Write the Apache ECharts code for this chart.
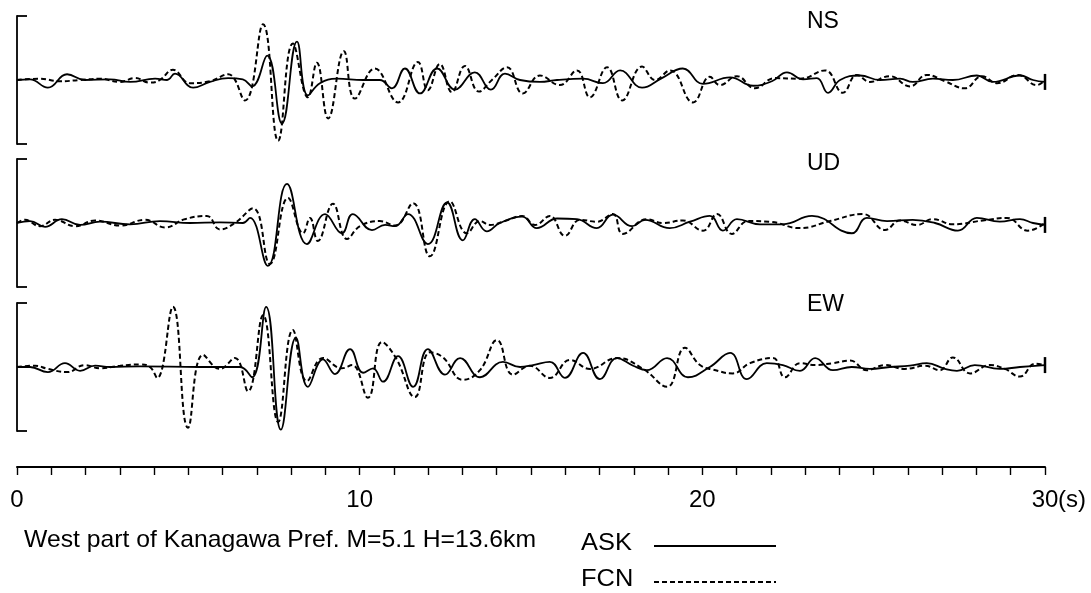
<!DOCTYPE html>
<html>
<head>
<meta charset="utf-8">
<script src="https://cdn.jsdelivr.net/npm/echarts@6/dist/echarts.min.js"></script>
<style>
html,body{margin:0;padding:0;background:#fff}
#chart{width:1091px;height:593px}
</style>
</head>
<body>
<div id="chart"></div>
<script>
// Components and trace names
const components = ['NS', 'UD', 'EW'];
const traceNames = ['ASK', 'FCN'];
const timeLabels = [0, 10, 20, 30];
const timeUnit = '(s)';
const caption = 'West part of Kanagawa Pref. M=5.1 H=13.6km';

// Waveforms as [time (s), amplitude] pairs; the bracket spans -10..10
const nsAsk = [[0,0],[0.38,0.1],[0.9,-1.2],[1.46,0.9],[1.98,0],[2.71,0.1],[3.3,-0.3],[4.03,0.2],[4.38,0],[4.61,1.0],[5.14,-1.2],[5.63,-0.3],[6.16,0.3],[6.59,0.1],[6.86,-1.0],[7.3,3.8],[7.73,-6.8],[8.17,6.0],[8.49,-2.4],[8.84,-0.5],[9.34,0.2],[10.1,0],[10.59,0],[10.94,-1.3],[11.32,1.8],[11.76,-2.1],[12.26,1.8],[12.78,-1.5],[13.36,1.2],[13.83,-1.5],[14.24,1.0],[14.68,0],[15.26,-0.3],[15.76,0],[16.52,0.2],[17.1,-0.5],[17.6,1.5],[18.24,-1.2],[18.82,0.3],[19.43,1.8],[20.02,-0.6],[20.81,0.4],[21.48,-0.9],[22.03,-0.2],[22.47,1.2],[22.94,0.1],[23.34,0.3],[23.67,-2.0],[24.02,0],[24.6,0.7],[25.18,0],[25.77,0.2],[26.14,-0.3],[26.73,0.2],[27.31,0],[28.01,0.7],[28.48,-0.3],[29.27,0.7],[29.65,0],[30,-0.3]];
const nsFcn = [[0,0],[0.67,0.2],[1.25,-0.2],[1.84,0],[2.42,0.2],[3.01,-0.3],[3.44,0.3],[3.88,-0.4],[4.17,0],[4.55,1.6],[5.05,-0.5],[5.63,-0.2],[6.16,0.9],[6.65,-3.2],[7.18,8.7],[7.62,-9.5],[8.05,5.7],[8.49,-2.7],[8.75,2.7],[9.08,-6.0],[9.54,4.5],[9.86,-2.9],[10.44,1.8],[11.12,-3.5],[11.7,2.8],[11.99,-1.6],[12.34,2.5],[12.69,-1.9],[13.07,2.2],[13.48,-1.8],[13.86,0],[14.3,2.0],[14.76,-2.1],[15.26,0.7],[15.84,-0.8],[16.34,1.5],[16.72,-2.7],[17.22,2.0],[17.66,-3.2],[18.24,2.1],[18.62,0],[19.06,1.5],[19.73,-3.5],[20.22,0.5],[20.51,-0.8],[21.01,0.6],[21.53,-1.3],[22.12,0.3],[22.85,0.2],[23.58,1.5],[24.1,-2.0],[24.51,0.8],[24.89,-0.3],[25.47,0.6],[26.06,-1.0],[26.55,0.8],[27.08,-0.2],[27.66,-1.3],[28.16,0.6],[28.6,-0.5],[29.21,0.8],[29.76,-0.8],[30,0]];

const udAsk = [[0,0],[0.38,0.3],[0.82,-0.6],[1.31,0.6],[1.84,-0.3],[2.42,0.2],[3.3,-0.2],[4.17,0.3],[5.05,0],[5.92,0.1],[6.59,0],[6.8,0.8],[7.32,-6.7],[7.88,6.1],[8.46,-3.3],[8.99,1.4],[9.48,-1.6],[9.8,1.4],[10.36,-1.1],[10.74,-0.3],[11.03,-0.5],[11.41,1.4],[11.99,-3.3],[12.55,3.2],[13.01,-2.7],[13.36,0.6],[13.71,-1.3],[14.09,0],[14.74,1.0],[15.17,-0.8],[15.76,0.7],[16.34,0.6],[16.92,-0.8],[17.39,1.3],[17.95,-0.5],[18.33,0.5],[19.05,-0.8],[19.64,0.2],[20.22,1.1],[20.6,-1.2],[21.01,0.6],[21.68,-0.2],[22.35,-0.2],[23.2,1.1],[24.36,-1.6],[24.8,0.8],[25.39,0.3],[26.14,0.5],[26.79,0],[27.46,-1.2],[28.01,0.8],[28.68,0.2],[29.27,0.6],[29.65,0],[30,-0.3]];
const udFcn = [[0,0],[0.23,0.5],[0.67,-0.5],[1.11,0.5],[1.69,-0.5],[2.28,0.4],[3.01,-0.4],[3.74,0.5],[4.32,-0.7],[4.9,0.6],[5.54,1.1],[5.92,-1.0],[6.36,0],[6.89,2.3],[7.38,-6.4],[7.91,3.9],[8.35,-1.6],[8.55,0.8],[8.78,-2.8],[9.22,3.0],[9.63,-2.5],[10.01,-0.5],[10.59,0.3],[11.03,-0.4],[11.56,3.1],[12.05,-5.2],[12.63,3.4],[13.13,-1.6],[13.51,0.3],[13.8,-0.3],[14.24,0.3],[14.74,1.1],[15.12,-0.3],[15.55,1.1],[15.99,-2.0],[16.43,0.5],[16.92,0.2],[17.39,1.4],[17.68,-1.7],[18.38,0.6],[18.85,0],[19.43,0.4],[20.02,-1.2],[20.43,1.4],[20.86,-1.7],[21.33,0.3],[21.97,0.2],[22.85,-0.8],[23.72,0.3],[24.69,1.4],[25.33,-1.1],[25.77,0.4],[26.26,-0.3],[26.73,0.6],[27.31,-0.2],[28.19,0.4],[28.89,0.8],[29.5,-1.2],[30,0]];

const ewAsk = [[0,0],[0.38,0],[0.9,-0.8],[1.4,0.6],[1.84,-0.6],[2.28,0.2],[2.71,0],[3.59,0.1],[5.34,0],[6.51,0],[6.86,-1.6],[7.27,9.4],[7.7,-9.8],[8.14,4.6],[8.49,-3.1],[8.93,1.2],[9.28,-1.1],[9.72,2.8],[10.1,-0.9],[10.39,-0.2],[10.68,-2.3],[11.12,1.7],[11.56,-3.1],[11.99,2.8],[12.49,-1.2],[12.93,1.4],[13.51,-1.6],[14.18,0.8],[14.68,0],[15.06,0.3],[15.55,0.8],[15.99,-1.7],[16.52,2.2],[17.01,-1.9],[17.51,1.4],[17.98,0.2],[18.38,-0.5],[18.97,1.4],[19.58,-1.6],[20.22,0],[20.81,2.2],[21.3,-1.9],[21.88,0.6],[22.35,0.3],[22.85,-0.6],[23.29,1.4],[23.81,-0.5],[24.36,0],[24.89,-0.3],[25.47,0],[26.06,0.2],[26.55,0.6],[27.08,-0.3],[27.43,-0.6],[27.95,0.3],[28.68,-0.3],[29.27,0],[30,0.3]];
const ewFcn = [[0,0],[0.53,0.2],[0.9,-0.3],[1.46,-0.8],[1.98,0.3],[2.42,-0.2],[3.01,0.2],[3.59,0.4],[3.88,0],[4.09,-1.7],[4.55,9.4],[4.99,-9.5],[5.43,1.9],[5.92,-0.3],[6.36,1.4],[6.74,-3.8],[7.18,8.1],[7.62,-8.6],[8.05,5.8],[8.46,-2.2],[8.93,1.4],[9.48,-0.2],[9.78,0.3],[10.24,-4.8],[10.65,3.9],[11.06,1.4],[11.61,-4.7],[12.05,2.3],[12.43,1.5],[13.01,-2.0],[13.51,-0.5],[14.01,4.2],[14.47,-1.2],[14.97,0.2],[15.55,-1.7],[16.14,1.1],[16.72,-0.3],[17.51,1.4],[18.27,-0.3],[18.97,-3.1],[19.49,3.0],[19.93,0.3],[20.31,-0.4],[20.89,-1.0],[21.39,0.6],[22.06,1.4],[22.41,-1.6],[22.85,0.6],[23.29,0.3],[23.81,0.6],[24.31,1.0],[24.8,-0.5],[25.33,0.3],[25.91,-0.3],[26.5,0.2],[26.93,-0.5],[27.31,1.5],[27.81,-1.0],[28.39,0.3],[28.83,-0.3],[29.27,-1.5],[29.71,0.5],[30,0.3]];

const traces = [[nsAsk, nsFcn], [udAsk, udFcn], [ewAsk, ewFcn]];

const FONT = '"Liberation Sans", Arial, Helvetica, sans-serif';
const INK = '#000';
const panelTops = [16, 159, 303];
const panelHeight = 128;
const plotLeft = 17;
const plotRight = 46;
const solidStyle = {width: 1.8, dash: null};
const dashStyle = {width: 2.0, dash: [5, 3]};

const chart = echarts.init(document.getElementById('chart'), null, {renderer: 'canvas'});

const grids = panelTops.map(top => ({left: plotLeft, right: plotRight, top: top, height: panelHeight}));
grids.push({left: plotLeft, right: plotRight, top: 420, height: 47});

const xAxes = panelTops.map((_, i) => ({
  gridIndex: i, type: 'value', min: 0, max: 30, show: false
}));
xAxes.push({
  gridIndex: 3, type: 'value', min: 0, max: 30, interval: 1,
  axisLine: {show: true, lineStyle: {color: INK, width: 2}},
  axisTick: {show: true, inside: false, length: 8, lineStyle: {color: INK, width: 1.4}},
  axisLabel: {
    show: true, color: INK, fontSize: 24, fontFamily: FONT, margin: 21,
    showMinLabel: true, showMaxLabel: true,
    formatter: v => (timeLabels.indexOf(v) >= 0 ? String(v) : '')
  },
  splitLine: {show: false}
});

// Left-hand brackets: axis line plus inward ticks at the two limits
const yAxes = panelTops.map((_, i) => ({
  gridIndex: i, type: 'value', min: -10, max: 10, interval: 20,
  axisLine: {show: true, lineStyle: {color: INK, width: 1.8}},
  axisTick: {show: true, inside: true, length: 10, lineStyle: {color: INK, width: 1.8}},
  axisLabel: {show: false},
  splitLine: {show: false}
}));
yAxes.push({gridIndex: 3, type: 'value', min: 0, max: 1, show: false});

const series = [];
traces.forEach((pair, gi) => {
  pair.forEach((pts, k) => {
    const dashed = k === 1;
    const st = dashed ? dashStyle : solidStyle;
    series.push({
      type: 'line',
      name: traceNames[k],
      xAxisIndex: gi, yAxisIndex: gi,
      data: pts.map((p, i) => (!dashed && i === pts.length - 1)
        ? {value: p, symbol: 'rect', symbolSize: [2.5, 16]}
        : {value: p}),
      symbol: 'none',
      showSymbol: true,
      smooth: 0.45,
      lineStyle: {color: INK, width: st.width, type: dashed ? st.dash : 'solid'},
      itemStyle: {color: INK},
      z: dashed ? 3 : 2,
      silent: true
    });
  });
});

const titles = components.map((c, i) => ({
  text: c, left: 807, top: [10, 152, 293][i],
  textStyle: {fontSize: 23, fontWeight: 'normal', color: INK, fontFamily: FONT},
  padding: 0
}));

// Key: name followed by a sample of its line style
const keyRows = [543, 579];
const keyGraphics = [];
traceNames.forEach((name, k) => {
  const st = k === 1 ? dashStyle : solidStyle;
  keyGraphics.push({
    type: 'text', x: 581, y: keyRows[k], scaleX: 1.06,
    style: {text: name, fill: INK, font: '24px ' + FONT, textVerticalAlign: 'middle', verticalAlign: 'middle'}
  });
  keyGraphics.push({
    type: 'line',
    shape: {x1: 654, y1: keyRows[k] + 3, x2: 776, y2: keyRows[k] + 3},
    style: {stroke: INK, lineWidth: st.width, lineDash: st.dash}
  });
});

chart.setOption({
  animation: false,
  backgroundColor: '#fff',
  title: titles,
  grid: grids,
  xAxis: xAxes,
  yAxis: yAxes,
  series: series,
  graphic: [
    {type: 'text', x: 1058, y: 500, style: {text: timeUnit, fill: INK, font: '24px ' + FONT, verticalAlign: 'middle', textVerticalAlign: 'middle'}},
    {type: 'text', x: 24, y: 540, scaleX: 1.03, style: {text: caption, fill: INK, font: '24px ' + FONT, verticalAlign: 'middle', textVerticalAlign: 'middle'}}
  ].concat(keyGraphics)
});
</script>
</body>
</html>
